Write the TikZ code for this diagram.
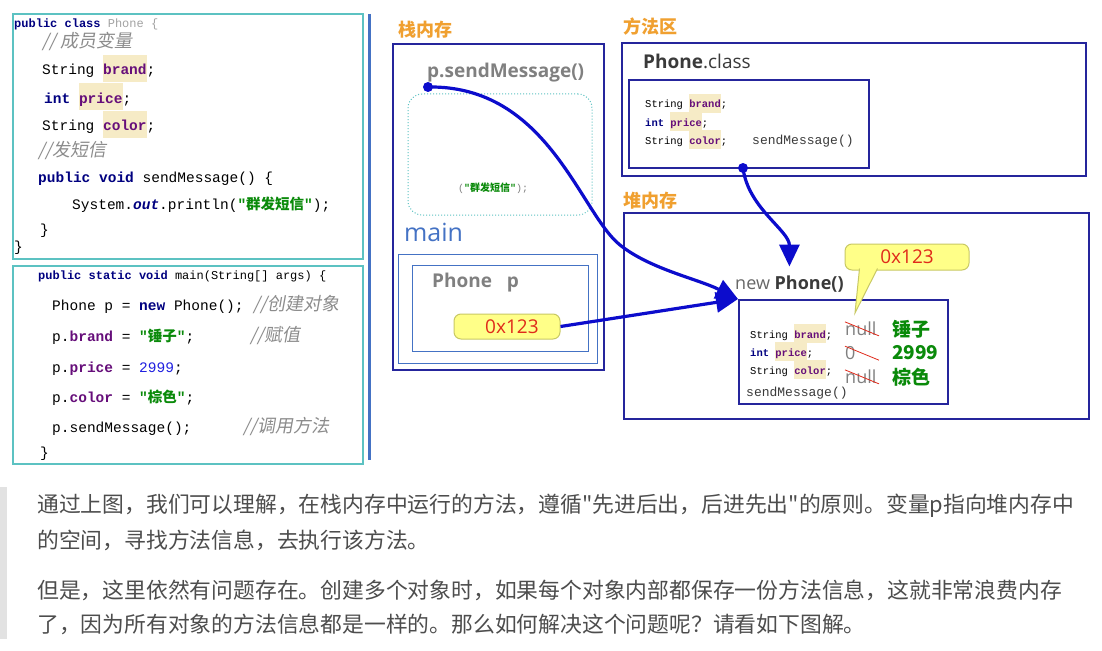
\documentclass[tikz,border=0pt]{standalone}
\usepackage{fontspec}
\setmainfont{Open Sans}
\newfontfamily\cjk{Noto Sans CJK SC}
\newfontfamily\cjkit{Noto Sans CJK SC}[FakeSlant=0.18]
\newfontfamily\codefont{Liberation Mono}
\usetikzlibrary{positioning,arrows.meta,calc}
\definecolor{jvmNavy}{HTML}{25259C}
\definecolor{jvmBlue}{HTML}{4472C4}
\definecolor{jvmArrow}{HTML}{0C0CCC}
\definecolor{jvmTeal}{HTML}{5CC2C2}
\definecolor{jvmOrange}{HTML}{F0A030}
\definecolor{jvmGrey}{HTML}{808080}
\definecolor{jvmDark}{HTML}{3A3A3A}
\definecolor{jvmKey}{HTML}{000080}
\definecolor{jvmField}{HTML}{660E7A}
\definecolor{jvmHl}{HTML}{F6EBC6}
\definecolor{jvmStr}{HTML}{0A8A0A}
\definecolor{jvmCmt}{HTML}{8C8C8C}
\definecolor{jvmNum}{HTML}{2020E0}
\definecolor{jvmYellow}{HTML}{FFFF88}
\definecolor{jvmYellowLine}{HTML}{C8C864}
\definecolor{jvmRed}{HTML}{E02A1A}
\definecolor{jvmPara}{HTML}{4D4D4D}
\definecolor{jvmBar}{HTML}{E2E2E2}
\tikzset{
  region/.style={draw=jvmNavy, line width=1.8, anchor=north west, inner sep=0},
  subregion/.style={draw=jvmBlue, line width=1.4, anchor=north west, inner sep=0},
  codebox/.style={draw=jvmTeal, line width=1.8, anchor=north west, inner sep=0},
  areatitle/.style={anchor=west, inner sep=0, text=jvmOrange,
    font=\cjk\bfseries\fontsize{18}{20}\selectfont},
  codeline/.style={anchor=base west, inner sep=0, font=\codefont\fontsize{14.5}{17}\selectfont},
  codehead/.style={anchor=base west, inner sep=0, font=\codefont\fontsize{12}{14}\selectfont},
  codesmall/.style={anchor=base west, inner sep=0, font=\codefont\fontsize{10.5}{12}\selectfont},
  codemid/.style={anchor=base west, inner sep=0, text=jvmDark, font=\codefont\fontsize{13}{15}\selectfont},
  greylabel/.style={anchor=west, inner sep=0, text=jvmGrey, font=\bfseries\fontsize{19}{22}\selectfont},
  addrbox/.style={draw=jvmYellowLine, fill=jvmYellow, line width=1, rounded corners=7,
    text=jvmRed, font=\fontsize{19}{22}\selectfont, inner sep=0},
  pointer/.style={draw=jvmArrow, line width=3.2, -{Triangle[length=22pt,width=20pt]}},
  dotmark/.style={circle, fill=jvmArrow, inner sep=0, minimum size=10},
  strike/.style={draw=jvmRed, line width=0.8},
  oldval/.style={anchor=west, inner sep=0, text=jvmGrey, font=\fontsize{18}{20}\selectfont},
  newval/.style={anchor=west, inner sep=0, text=jvmStr, font=\cjk\bfseries\fontsize{19}{22}\selectfont},
  para/.style={anchor=west, inner sep=0, text=jvmPara, font=\cjk\fontsize{21.8}{26}\selectfont},
}
\newcommand{\kw}[1]{\textcolor{jvmKey}{\bfseries #1}}
\newcommand{\fld}[1]{{\setlength{\fboxsep}{0pt}\colorbox{jvmHl}{\rule[-0.45em]{0pt}{1.8em}\textcolor{jvmField}{\bfseries #1}}}}
\newcommand{\cmt}[1]{\textcolor{jvmCmt}{\cjkit\fontsize{18}{20}\selectfont #1}}
\newcommand{\jstr}[1]{\textcolor{jvmStr}{\bfseries"{\cjk\bfseries #1}"}}

\begin{document}
\begin{tikzpicture}[x=1pt, y=-1pt]

\fill[white] (0,0) rectangle (1102,650);
\useasboundingbox (0,0) rectangle (1102,650);

% the source code
\node[codebox, minimum width=350, minimum height=245] (classcode) at (12,13) {};
\node[codebox, minimum width=350, minimum height=198] (maincode) at (12,265) {};
\draw[jvmBlue, line width=3] (369,14) -- (369,460);

\node[codehead] (c0) at (14,28) {\kw{public class} \textcolor{jvmCmt!80}{Phone \{}};
\node[codeline] (c1) at (42,48) {\cmt{// 成员变量}};
\node[codeline] (c2) at (42,75) {String \fld{brand};};
\node[codeline] (c3) at (44,103) {\kw{int} \fld{price};};
\node[codeline] (c4) at (42,131) {String \fld{color};};
\node[codeline] (c5) at (38,156) {\cmt{//发短信}};
\node[codeline] (c6) at (38,182) {\kw{public void} sendMessage() \{};
\node[codeline] (c7) at (72,209) {System.\textcolor{jvmKey}{\bfseries\itshape out}.println(\jstr{群发短信});};
\node[codeline] (c8) at (40,234) {\}};
\node[codeline] (c9) at (14,251) {\}};

\node[codehead] (m0) at (38,279) {\kw{public static void} main(String[] args) \{};
\node[codeline] (m1) at (52,310) {Phone p = \kw{new} Phone();};
\node[codeline] (m1c) at (253,310) {\cmt{//创建对象}};
\node[codeline] (m2) at (52,341) {p.\textcolor{jvmField}{\bfseries brand} = \jstr{锤子};};
\node[codeline] (m2c) at (250,341) {\cmt{//赋值}};
\node[codeline] (m3) at (52,372) {p.\textcolor{jvmField}{\bfseries price} = \textcolor{jvmNum}{2999};};
\node[codeline] (m4) at (52,402) {p.\textcolor{jvmField}{\bfseries color} = \jstr{棕色};};
\node[codeline] (m5) at (52,432) {p.sendMessage();};
\node[codeline] (m5c) at (243,432) {\cmt{//调用方法}};
\node[codeline] (m6) at (40,457) {\}};

% stack memory
\node[areatitle] (stacktitle) at (398,30) {栈内存};
\node[region, minimum width=211, minimum height=326] (stack) at (392,43) {};
\node[greylabel] (calllbl) at (427,73) {p.sendMessage()};
\node[draw=jvmTeal, dotted, line width=1, rounded corners=14, minimum width=184, minimum height=121,
  inner sep=0] (frame) at (500,154.5) {};
\node[anchor=base west, inner sep=0, text=jvmGrey, font=\codefont\fontsize{10}{12}\selectfont]
  (msgarg) at (458,191) {(\jstr{群发短信});};
\node[anchor=west, inner sep=0, text=jvmBlue, font=\fontsize{25}{28}\selectfont] (mainlbl) at (404,232) {main};
\node[subregion, minimum width=199, minimum height=109] (mainframe) at (398,254) {};
\node[subregion, minimum width=176, minimum height=86] (varbox) at (412,265) {};
\node[greylabel] (varlbl) at (432,283) {Phone\ \ \ p};
\node[addrbox, minimum width=106, minimum height=25] (addr) at (507,326.5) {\ \ 0x123};
\node[dotmark] (calldot) at (428,87) {};

% method area
\node[areatitle] (methodtitle) at (623,27) {方法区};
\node[region, minimum width=464, minimum height=133] (method) at (621,42) {};
\node[anchor=west, inner sep=0, text=jvmDark, font=\fontsize{19}{22}\selectfont] (clslbl) at (643,61) {\textbf{Phone}.class};
\node[region, minimum width=240, minimum height=88] (classbox) at (628,79) {};
\foreach \yy/\txt [count=\i] in {108/{String \fld{brand};}, 126/{\kw{int} \fld{price};}, 144/{String \fld{color};}}
  \node[codesmall] (cf\i) at (645,\yy) {\txt};
\node[codemid] (cm) at (752,144) {sendMessage()};
\node[dotmark] (classdot) at (743,168) {};

% heap memory
\node[areatitle] (heaptitle) at (623,201) {堆内存};
\node[region, minimum width=465, minimum height=206] (heap) at (623,212) {};
\node[anchor=west, inner sep=0, font=\fontsize{18}{21}\selectfont] (newlbl) at (735,284)
  {\textcolor{jvmGrey!120}{new} \textcolor{jvmDark}{\textbf{Phone()}}};
\node[region, minimum width=209, minimum height=104] (obj) at (738,299) {};
\foreach \yy/\txt [count=\i] in {338/{String \fld{brand};}, 356/{\kw{int} \fld{price};}, 374/{String \fld{color};}}
  \node[codesmall] (of\i) at (750,\yy) {\txt};
\node[codemid] (om) at (746,396) {sendMessage()};
\foreach \yy/\old/\new [count=\i] in {329/null/锤子, 353/0/2999, 377/null/棕色} {
  \node[oldval] (old\i) at (845,\yy) {\old};
  \node[newval] (new\i) at (892,\yy) {\new};
  \draw[strike] (old\i.north west) -- ($(old\i.north west)+(34,14)$);
}

% the callout with the address
\node[addrbox, minimum width=124, minimum height=26] (callout) at (907,257) {0x123};
\draw[fill=jvmYellow, draw=jvmYellowLine, line width=1]
  ($(callout.south west)+(15,-2)$) -- (855,313) -- ($(callout.south west)+(33,-2)$);

% references
\draw[pointer] (addr.east) -- (obj.north west);
\coordinate (turn) at (620,245);
\draw[pointer] (calldot.center) .. controls +(120,-2) and +(-40,-32) .. (turn)
  .. controls +(30,24) and +(-40,-20) .. (obj.north west);
\draw[pointer, shorten >=9pt] (classdot.center) .. controls +(5,40) and +(0,-45) .. (newlbl.north);

% the text below
\fill[jvmBar] (0,487) rectangle (7,639);
\node[para] (p1) at (37,506) {通过上图，我们可以理解，在栈内存中运行的方法，遵循"先进后出，后进先出"的原则。变量p指向堆内存中};
\node[para] (p2) at (37,540) {的空间，寻找方法信息，去执行该方法。};
\node[para] (p3) at (37,590) {但是，这里依然有问题存在。创建多个对象时，如果每个对象内部都保存一份方法信息，这就非常浪费内存};
\node[para] (p4) at (37,624) {了，因为所有对象的方法信息都是一样的。那么如何解决这个问题呢？请看如下图解。};

\end{tikzpicture}
\end{document}
